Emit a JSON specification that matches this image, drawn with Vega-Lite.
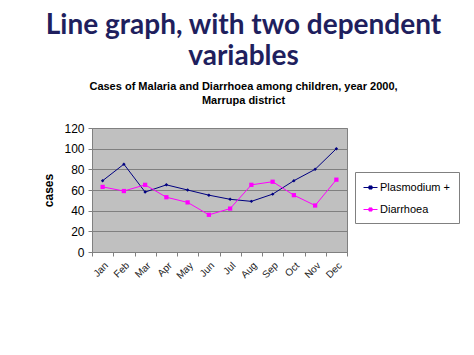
{
  "$schema": "https://vega.github.io/schema/vega-lite/v6.json",
  "width": 255,
  "height": 124,
  "autosize": {"type": "none"},
  "padding": {"left": 92, "top": 128, "right": 127, "bottom": 103},
  "background": "white",
  "title": {
    "text": ["Line graph, with two dependent", "variables"],
    "subtitle": ["Cases of Malaria and Diarrhoea among children,  year 2000,", "Marrupa district"],
    "anchor": "middle",
    "font": "Lato",
    "fontSize": 28,
    "fontWeight": "bold",
    "color": "#1f1f5e",
    "lineHeight": 31,
    "subtitleFont": "Liberation Sans",
    "subtitleFontSize": 11,
    "subtitleFontWeight": "bold",
    "subtitleColor": "#000000",
    "subtitleLineHeight": 14,
    "subtitlePadding": 10,
    "offset": 16,
    "dx": 24
  },
  "data": {
    "values": [
      {"month": "Jan", "series": "Plasmodium +", "cases": 69},
      {"month": "Feb", "series": "Plasmodium +", "cases": 85},
      {"month": "Mar", "series": "Plasmodium +", "cases": 58},
      {"month": "Apr", "series": "Plasmodium +", "cases": 65},
      {"month": "May", "series": "Plasmodium +", "cases": 60},
      {"month": "Jun", "series": "Plasmodium +", "cases": 55},
      {"month": "Jul", "series": "Plasmodium +", "cases": 51},
      {"month": "Aug", "series": "Plasmodium +", "cases": 49},
      {"month": "Sep", "series": "Plasmodium +", "cases": 56},
      {"month": "Oct", "series": "Plasmodium +", "cases": 69},
      {"month": "Nov", "series": "Plasmodium +", "cases": 80},
      {"month": "Dec", "series": "Plasmodium +", "cases": 100},
      {"month": "Jan", "series": "Diarrhoea", "cases": 63},
      {"month": "Feb", "series": "Diarrhoea", "cases": 59},
      {"month": "Mar", "series": "Diarrhoea", "cases": 65},
      {"month": "Apr", "series": "Diarrhoea", "cases": 53},
      {"month": "May", "series": "Diarrhoea", "cases": 48},
      {"month": "Jun", "series": "Diarrhoea", "cases": 36},
      {"month": "Jul", "series": "Diarrhoea", "cases": 42},
      {"month": "Aug", "series": "Diarrhoea", "cases": 65},
      {"month": "Sep", "series": "Diarrhoea", "cases": 68},
      {"month": "Oct", "series": "Diarrhoea", "cases": 55},
      {"month": "Nov", "series": "Diarrhoea", "cases": 45},
      {"month": "Dec", "series": "Diarrhoea", "cases": 70}
    ]
  },
  "encoding": {
    "x": {
      "field": "month",
      "type": "nominal",
      "sort": null,
      "scale": {"type": "band", "paddingInner": 0, "paddingOuter": 0},
      "axis": {
        "title": null,
        "labelAngle": -45,
        "labelFont": "Liberation Sans",
        "labelFontSize": 10,
        "labelColor": "#222222",
        "labelPadding": 4,
        "tickBand": "extent",
        "tickSize": 4,
        "tickColor": "#808080",
        "domainColor": "#808080",
        "grid": false
      }
    },
    "y": {
      "field": "cases",
      "type": "quantitative",
      "scale": {"domain": [0, 120], "nice": false},
      "axis": {
        "title": "cases",
        "titleFont": "Liberation Sans",
        "titleFontSize": 12,
        "titleFontWeight": "bold",
        "titleColor": "#000000",
        "titlePadding": 8,
        "values": [0, 20, 40, 60, 80, 100, 120],
        "labelFont": "Liberation Sans",
        "labelFontSize": 12,
        "labelColor": "#000000",
        "labelPadding": 4,
        "tickSize": 4,
        "tickColor": "#808080",
        "domainColor": "#808080",
        "grid": true,
        "gridColor": "#808080",
        "gridWidth": 1
      }
    }
  },
  "layer": [
    {
      "mark": {"type": "line", "strokeWidth": 1},
      "encoding": {
        "color": {
          "field": "series",
          "type": "nominal",
          "sort": ["Plasmodium +", "Diarrhoea"],
          "scale": {"domain": ["Plasmodium +", "Diarrhoea"], "range": ["#000080", "#ff00ff"]},
          "legend": {
            "title": null,
            "orient": "none",
            "legendX": 263,
            "legendY": 44,
            "strokeColor": "#808080",
            "fillColor": "#ffffff",
            "padding": 8,
            "rowPadding": 9,
            "labelFont": "Liberation Sans",
            "labelFontSize": 11,
            "labelColor": "#000000",
            "labelOffset": 2,
            "symbolType": "M-1,0H1M-0.22,-0.22H0.22V0.22H-0.22Z",
            "symbolSize": 196,
            "symbolStrokeWidth": 1,
            "encode": {
              "symbols": {
                "update": {
                  "stroke": {"scale": "color", "field": "value"},
                  "fill": {"scale": "color", "field": "value"},
                  "strokeWidth": {"value": 1},
                  "fillOpacity": {"value": 1}
                }
              }
            }
          }
        }
      }
    },
    {
      "transform": [{"filter": "datum.series === 'Plasmodium +'"}],
      "mark": {"type": "point", "filled": true, "opacity": 1, "shape": "diamond", "size": 12},
      "encoding": {
        "color": {"field": "series", "type": "nominal", "legend": null}
      }
    },
    {
      "transform": [{"filter": "datum.series === 'Diarrhoea'"}],
      "mark": {"type": "point", "filled": true, "opacity": 1, "shape": "square", "size": 18},
      "encoding": {
        "color": {"field": "series", "type": "nominal", "legend": null}
      }
    }
  ],
  "config": {
    "view": {"fill": "#c0c0c0", "stroke": "#808080", "strokeWidth": 1}
  }
}
